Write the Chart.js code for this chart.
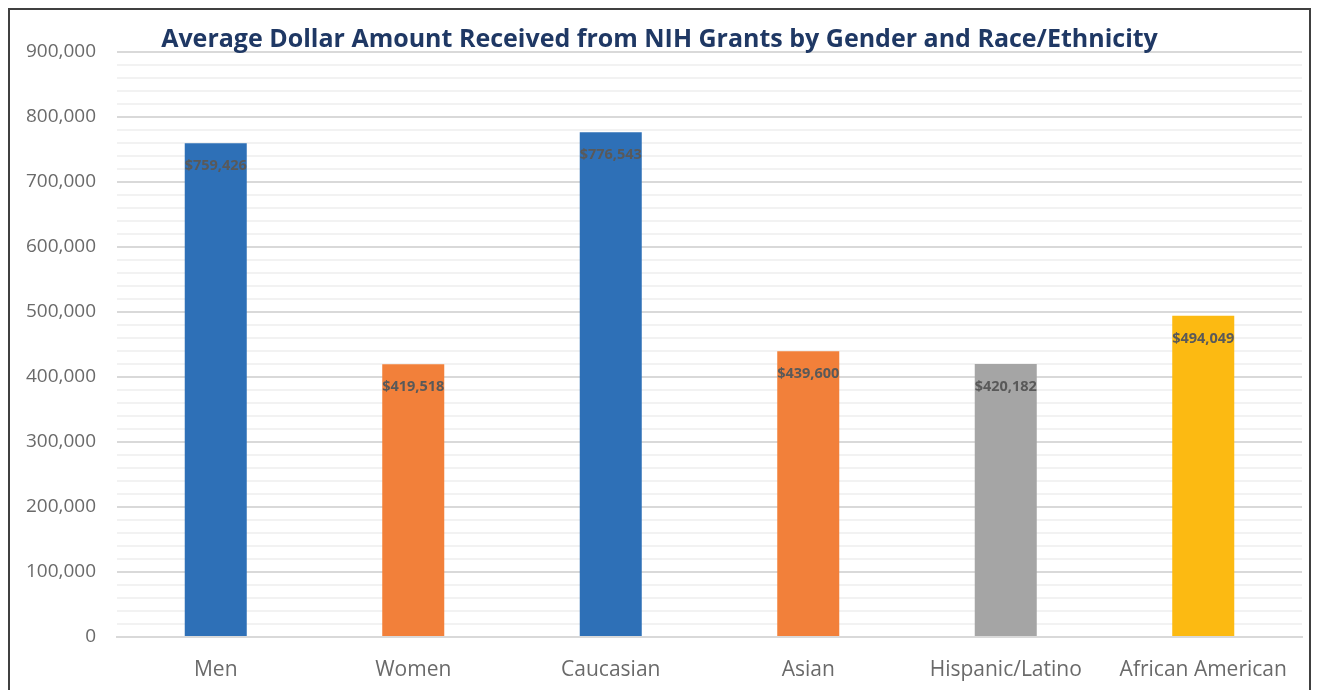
<!DOCTYPE html>
<html>
<head>
<meta charset="utf-8">
<script src="https://cdn.jsdelivr.net/npm/chart.js@4.4.0/dist/chart.umd.min.js"></script>
<style>
  html, body { margin: 0; padding: 0; background: #fff; }
  #wrap { position: relative; width: 1319px; height: 690px; overflow: hidden; }
  #frame { position: absolute; left: 8px; top: 8px; width: 1303px; height: 700px; border: 2px solid #404040; box-sizing: border-box; pointer-events: none; }
  #title { position: absolute; left: 0; width: 1319px; top: 19px; text-align: center; font-family: "Open Sans", sans-serif; font-weight: bold; font-size: 25px; line-height: 36px; color: #1f3864; white-space: nowrap; }
  canvas { position: absolute; left: 0; top: 0; }
</style>
</head>
<body>
<div id="wrap">
  <canvas id="grantChart" width="1319" height="690"></canvas>
  <div id="title">Average Dollar Amount Received from NIH Grants by Gender and Race/Ethnicity</div>
  <div id="frame"></div>
</div>
<script>
// chart data
const categories = ['Men', 'Women', 'Caucasian', 'Asian', 'Hispanic/Latino', 'African American'];
const amounts = [759426, 419518, 776543, 439600, 420182, 494049];
const barColors = ['#2E70B7', '#F2803A', '#2E70B7', '#F2803A', '#A5A5A5', '#FCBA12'];
const yMax = 900000;
const yStep = 20000;     // minor gridlines
const yLabelStep = 100000;

// writes the dollar value just inside the top of each bar
const barLabels = {
    id: 'barLabels',
    afterDatasetsDraw(chart) {
        const ctx = chart.ctx;
        const meta = chart.getDatasetMeta(0);
        ctx.save();
        ctx.font = 'bold 14.5px "Open Sans", sans-serif';
        ctx.fillStyle = '#595959';
        ctx.textAlign = 'center';
        ctx.textBaseline = 'middle';
        meta.data.forEach(function(bar, i) {
            ctx.fillText('$' + amounts[i].toLocaleString('en-US'), bar.x, bar.y + 23);
        });
        ctx.restore();
    }
};

const ctxGrant = document.getElementById('grantChart').getContext('2d');
const grantChart = new Chart(ctxGrant, {
    type: 'bar',
    data: {
        labels: categories,
        datasets: [{
            data: amounts,
            backgroundColor: barColors,
            barPercentage: 0.314,
            categoryPercentage: 1.0
        }]
    },
    options: {
        responsive: false,
        animation: false,
        layout: { padding: { top: 52, right: 17, bottom: 0, left: 0 } },
        plugins: {
            legend: { display: false },
            tooltip: { enabled: false }
        },
        scales: {
            x: {
                grid: { display: false },
                border: { color: '#d9d9d9', width: 2 },
                ticks: {
                    color: '#6a6a6a',
                    padding: 12,
                    font: { family: 'Open Sans', size: 21 }
                },
                afterFit(scale) { scale.height = 53; }
            },
            y: {
                min: 0,
                max: yMax,
                border: { display: false },
                grid: {
                    drawTicks: false,
                    lineWidth: 2,
                    color(c) {
                        return c.tick && c.tick.value % yLabelStep === 0 ? '#d9d9d9' : '#f2f2f2';
                    }
                },
                ticks: {
                    stepSize: yStep,
                    autoSkip: false,
                    padding: 21,
                    color: '#6a6a6a',
                    font: { family: 'Open Sans', size: 19 },
                    callback(v) {
                        return v % yLabelStep === 0 ? v.toLocaleString('en-US') : '';
                    }
                },
                afterFit(scale) { scale.width = 117; }
            }
        }
    },
    plugins: [barLabels]
});
</script>
</body>
</html>
